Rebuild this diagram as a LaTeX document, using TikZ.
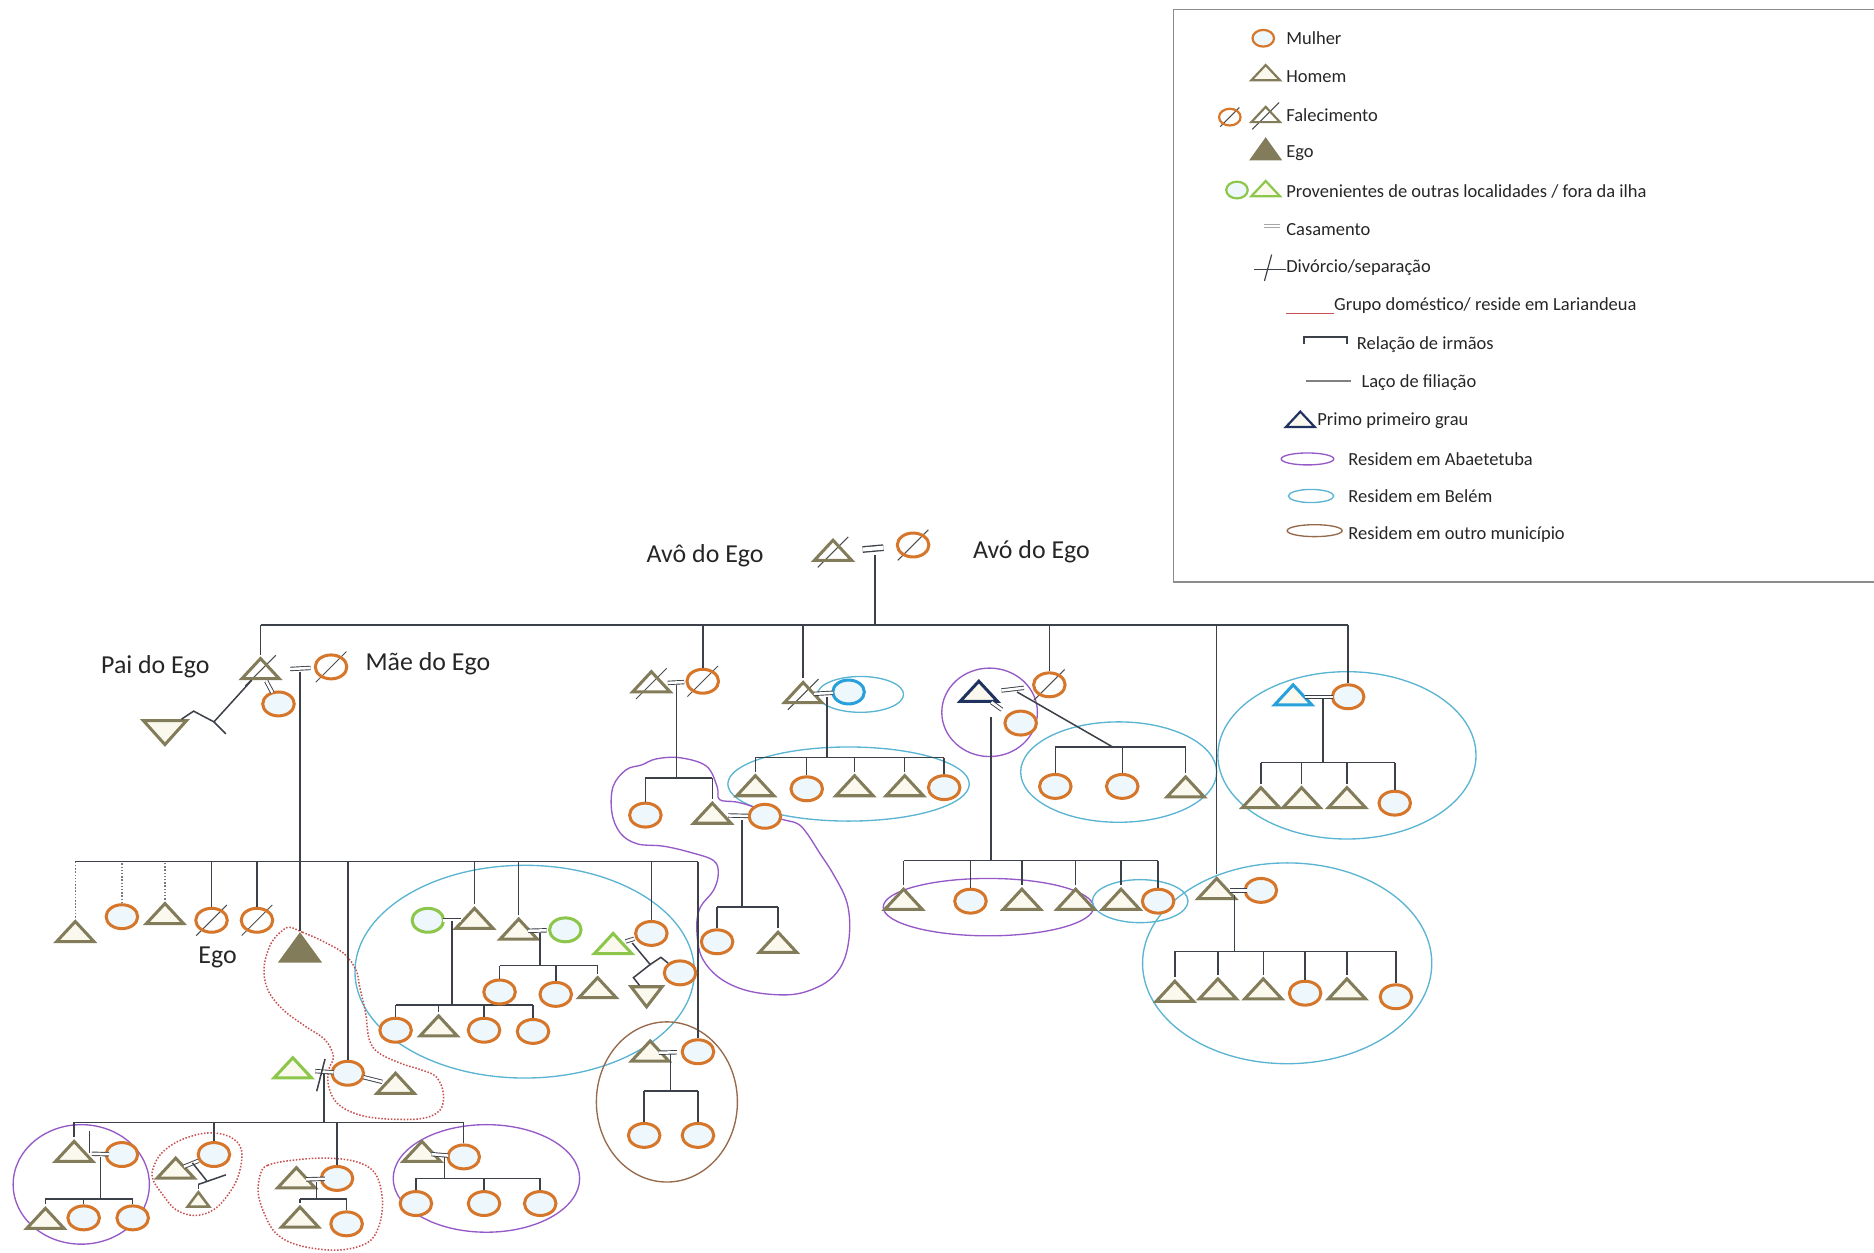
\documentclass[tikz,border=0pt]{standalone}
\usepackage{fontspec}
\setmainfont{Carlito}
\usetikzlibrary{shapes.geometric, calc}

\definecolor{laranja}{RGB}{214,118,42}
\definecolor{oliva}{RGB}{130,124,90}
\definecolor{verde}{RGB}{140,198,74}
\definecolor{marinho}{RGB}{31,50,96}
\definecolor{azulclaro}{RGB}{40,160,220}
\definecolor{ciano}{RGB}{90,180,210}
\definecolor{roxo}{RGB}{150,90,200}
\definecolor{marrom}{RGB}{150,105,75}
\definecolor{vermelho}{RGB}{200,80,80}
\definecolor{traco}{RGB}{60,64,72}
\definecolor{fundoM}{RGB}{238,247,251}
\definecolor{fundoH}{RGB}{251,249,238}

\begin{document}
\begin{tikzpicture}[x=0.025cm, y=-0.025cm,
    mulher/.style={ellipse, draw=laranja, line width=1.8pt, fill=fundoM, minimum width=0.66cm, minimum height=0.5cm, inner sep=0pt},
    homem/.style={isosceles triangle, isosceles triangle stretches=true, shape border rotate=90, draw=oliva, line width=1.8pt, fill=fundoH, minimum width=0.78cm, minimum height=0.42cm, inner sep=0pt},
    egotri/.style={homem, fill=oliva, minimum width=0.8cm, minimum height=0.55cm},
    mulherL/.style={mulher, line width=1.3pt, minimum width=0.45cm, minimum height=0.35cm},
    homemL/.style={homem, line width=1.3pt, minimum width=0.6cm, minimum height=0.32cm},
    morto/.style={fill=none, append after command={\pgfextra{\draw[black!70, line width=0.6pt] ([shift={(-#1,-#1)}]\tikzlastnode.center) -- ([shift={(#1,#1)}]\tikzlastnode.center);}}},
    morto/.default=0.32cm,
    linha/.style={draw=traco, line width=0.9pt},
    pontilhado/.style={draw=traco!70, line width=0.9pt, densely dotted},
    casar/.style={draw=traco, line width=0.55pt, double=white, double distance=1.5pt},
    residencia/.style={line width=0.8pt},
    grupo/.style={draw=vermelho, line width=0.9pt, densely dotted},
    rotulo/.style={font=\fontsize{15.4}{18}\selectfont, text=black!85, inner sep=0pt},
    legtxt/.style={font=\fontsize{11}{13}\selectfont, text=black!85, anchor=west, inner sep=0pt}
]
\useasboundingbox (0,0) rectangle (1568,1048);

% Residencias (elipses)
\draw[residencia, roxo] (828,596) ellipse [x radius=40, y radius=37];
\draw[residencia, roxo] (827,759) ellipse [x radius=88, y radius=24];
\draw[residencia, roxo] (68,991) ellipse [x radius=57, y radius=50];
\draw[residencia, roxo] (407,986) ellipse [x radius=78, y radius=45];
\draw[residencia, ciano] (720,581) ellipse [x radius=36, y radius=15];
\draw[residencia, ciano] (710,656) ellipse [x radius=101, y radius=31];
\draw[residencia, ciano] (936,646) ellipse [x radius=82, y radius=42];
\draw[residencia, ciano] (1127,632) ellipse [x radius=108, y radius=70];
\draw[residencia, ciano] (1077,806) ellipse [x radius=121, y radius=84];
\draw[residencia, ciano] (954,754) ellipse [x radius=40, y radius=18];
\draw[residencia, ciano] (439,813) ellipse [x radius=142, y radius=89];
\draw[residencia, marrom] (558,922) ellipse [x radius=59, y radius=67];
\draw[residencia, roxo] plot[smooth cycle, tension=0.6] coordinates {(537,640) (549,635) (569,634) (591,641) (600,658) (602,669) (616,671) (630,675) (653,685) (667,689) (675,697) (686,714) (697,731) (708,753) (711,775) (708,798) (700,814) (686,825) (664,832) (636,831) (614,825) (597,814) (586,798) (583,775) (586,759) (597,745) (601,731) (597,720) (577,713) (555,708) (533,706) (519,697) (512,680) (513,658) (524,644)};

% Grupos domesticos (pontilhado vermelho)
\draw[grupo] plot[smooth cycle, tension=0.6] coordinates {(243,776) (253,780) (269,787) (288,798) (298,812) (301,826) (306,848) (309,870) (317,881) (336,890) (352,895) (365,901) (371,915) (368,929) (352,936) (320,936) (298,932) (282,923) (275,909) (275,895) (279,884) (272,870) (256,859) (237,845) (224,828) (221,809) (227,789) (237,778)};
\draw[grupo] plot[smooth cycle, tension=0.6] coordinates {(128,978) (135,965) (151,954) (173,948) (192,951) (202,962) (200,982) (192,998) (179,1012) (163,1017) (147,1012) (135,998) (128,987)};
\draw[grupo] plot[smooth cycle, tension=0.6] coordinates {(218,982) (224,975) (243,971) (272,969) (298,972) (314,982) (320,1004) (317,1026) (307,1040) (282,1046) (250,1042) (231,1032) (221,1015) (216,998)};

% Avos
\node[homem, morto] (avo) at (697,462) {};
\node[mulher, morto] (ava) at (764,456) {};
\node[rotulo] (avoTxt) at (590,465) {Avô do Ego};
\node[rotulo] (avaTxt) at (863,462) {Avó do Ego};
\draw[casar, line width=0.8pt, double distance=2.4pt] ($(avo)!0.37!(ava)$) -- ($(avo)!0.63!(ava)$);
\coordinate (jAvos) at (732,464);
\coordinate (barPais) at (0,523);
\draw[linha] (jAvos) -- (jAvos |- barPais);

% Pais do Ego
\node[homem, morto] (pai) at (218,561) {};
\node[mulher, morto] (mae) at (277,558) {};
\node[rotulo] (paiTxt) at (130,558) {Pai do Ego};
\node[rotulo] (maeTxt) at (358,555) {Mãe do Ego};
\draw[casar] ($(pai)!0.42!(mae)$) -- ($(pai)!0.71!(mae)$);
\node[mulher] (pai2) at (233,589) {};
\draw[casar] ($(pai)!0.32!(pai2)$) -- ($(pai)!0.66!(pai2)$);
\node[homem, shape border rotate=-72, minimum width=0.9cm, minimum height=0.5cm] (meio) at (138,611) {};
\coordinate (z1) at (179,604);
\coordinate (z2) at (162,595);
\coordinate (z3) at (189,614);
\draw[linha] (pai) -- (z1) -- (z2) -- (meio);
\draw[linha] (z1) -- (z3);
\coordinate (jPais) at (251,562);
\coordinate (barEgo) at (0,721);

% Tio 1 (Abaetetuba)
\node[homem, morto] (tio1) at (545,572) {};
\node[mulher, morto] (tia1) at (588,570) {};
\draw[casar] ($(tio1)!0.32!(tia1)$) -- ($(tio1)!0.64!(tia1)$);
\coordinate (j1) at (566,573);
\coordinate (bar1) at (0,651);
\node[mulher] (p1a) at (540,682) {};
\node[homem] (p1b) at (596,682) {};
\node[mulher] (p1c) at (640,683) {};
\draw[casar] ($(p1b)!0.3!(p1c)$) -- ($(p1b)!0.68!(p1c)$);
\coordinate (j1b) at (621,686);
\coordinate (bar1b) at (0,759);
\node[mulher] (p1d) at (600,788) {};
\node[homem] (p1e) at (651,790) {};
\draw[linha] (j1) -- (j1 |- bar1);
\draw[linha] (p1a |- bar1) -- (p1b |- bar1);
\foreach \c in {p1a,p1b} \draw[linha] (\c) -- (\c |- bar1);
\draw[linha] (j1b) -- (j1b |- bar1b);
\draw[linha] (p1d |- bar1b) -- (p1e |- bar1b);
\foreach \c in {p1d,p1e} \draw[linha] (\c) -- (\c |- bar1b);

% Tio 2 (Belem)
\node[homem, morto] (tio2) at (672,581) {};
\node[mulher, draw=azulclaro] (tia2) at (710,579) {};
\draw[casar] ($(tio2)!0.24!(tia2)$) -- ($(tio2)!0.66!(tia2)$);
\coordinate (j2) at (692,583);
\coordinate (bar2) at (0,634);
\node[homem] (p2a) at (632,659) {};
\node[mulher] (p2b) at (675,660) {};
\node[homem] (p2c) at (715,659) {};
\node[homem] (p2d) at (757,659) {};
\node[mulher] (p2e) at (790,659) {};
\draw[linha] (j2) -- (j2 |- bar2);
\draw[linha] (p2a |- bar2) -- (p2e |- bar2);
\foreach \c in {p2a,p2b,p2c,p2d,p2e} \draw[linha] (\c) -- (\c |- bar2);

% Primo primeiro grau
\node[homem, draw=marinho] (primo) at (819,580) {};
\node[mulher, morto] (tia3) at (878,573) {};
\draw[casar] ($(primo)!0.32!(tia3)$) -- ($(primo)!0.64!(tia3)$);
\node[mulher] (primoEsp) at (854,605) {};
\draw[casar] ($(primo)!0.3!(primoEsp)$) -- ($(primo)!0.55!(primoEsp)$);
\coordinate (j3a) at (851,579);
\coordinate (j3c) at (931,625);
\coordinate (bar3a) at (0,625);
\node[mulher] (p3a) at (883,658) {};
\node[mulher] (p3b) at (939,658) {};
\node[homem] (p3c) at (992,660) {};
\draw[linha] (j3a) -- (j3c);
\draw[linha] (p3a |- bar3a) -- (p3c |- bar3a);
\foreach \c in {p3a,p3b,p3c} \draw[linha] (\c) -- (\c |- bar3a);
\coordinate (j3b) at (829,600);
\coordinate (bar3b) at (0,720);
\node[homem] (p3d) at (756,754) {};
\node[mulher] (p3e) at (812,754) {};
\node[homem] (p3f) at (855,754) {};
\node[homem] (p3g) at (900,754) {};
\node[homem] (p3h) at (938,754) {};
\node[mulher] (p3i) at (969,754) {};
\draw[linha] (j3b) -- (j3b |- bar3b);
\draw[linha] (p3d |- bar3b) -- (p3i |- bar3b);
\foreach \c in {p3d,p3e,p3f,p3g,p3h,p3i} \draw[linha] (\c) -- (\c |- bar3b);

% Tio 4 (Belem)
\node[homem] (tio4) at (1018,745) {};
\node[mulher] (tia4) at (1055,745) {};
\draw[casar] ($(tio4)!0.3!(tia4)$) -- ($(tio4)!0.68!(tia4)$);
\coordinate (j4) at (1033,749);
\coordinate (bar4) at (0,796);
\node[homem] (p4a) at (983,831) {};
\node[homem] (p4b) at (1019,829) {};
\node[homem] (p4c) at (1057,829) {};
\node[mulher] (p4d) at (1092,831) {};
\node[homem] (p4e) at (1127,829) {};
\node[mulher] (p4f) at (1168,834) {};
\draw[linha] (j4) -- (j4 |- bar4);
\draw[linha] (p4a |- bar4) -- (p4f |- bar4);
\foreach \c in {p4a,p4b,p4c,p4d,p4e,p4f} \draw[linha] (\c) -- (\c |- bar4);

% Tia 5 (Belem)
\node[homem, draw=azulclaro] (primoB) at (1082,583) {};
\node[mulher] (tia5) at (1128,583) {};
\draw[casar] ($(primoB)!0.21!(tia5)$) -- ($(primoB)!0.72!(tia5)$);
\coordinate (j5) at (1107,584);
\coordinate (bar5) at (0,638);
\node[homem] (p5a) at (1055,669) {};
\node[homem] (p5b) at (1089,669) {};
\node[homem] (p5c) at (1127,669) {};
\node[mulher] (p5d) at (1167,672) {};
\draw[linha] (j5) -- (j5 |- bar5);
\draw[linha] (p5a |- bar5) -- (p5d |- bar5);
\foreach \c in {p5a,p5b,p5c,p5d} \draw[linha] (\c) -- (\c |- bar5);

% Irmaos dos pais
\draw[linha] (pai |- barPais) -- (tia5 |- barPais);
\foreach \c in {pai,tia1,tio2,tia3,tio4,tia5} \draw[linha] (\c) -- (\c |- barPais);

% Irmaos do Ego
\node[homem] (irm1) at (63,781) {};
\node[mulher] (irm2) at (102,767) {};
\node[homem] (irm3) at (138,766) {};
\node[mulher, morto] (irm4) at (177,770) {};
\node[mulher, morto] (irm5) at (215,770) {};
\node[egotri] (ego) at (251,796) {};
\node[rotulo] (egoTxt) at (182,801) {Ego};
\node[mulher] (irm6) at (291,898) {};
\node[homem] (irm7) at (397,770) {};
\node[homem] (irm8) at (434,779) {};
\node[mulher] (irm9) at (545,781) {};
\node[mulher] (irm10) at (584,880) {};
\draw[linha] (jPais) -- (jPais |- barEgo);
\draw[linha] (irm1 |- barEgo) -- (irm10 |- barEgo);
\foreach \c in {irm1,irm2,irm3} \draw[pontilhado] (\c) -- (\c |- barEgo);
\foreach \c in {irm4,irm5,ego,irm6,irm7,irm8,irm9,irm10} \draw[linha] (\c) -- (\c |- barEgo);

% Familia do irmao 7
\node[mulher, draw=verde] (esp7) at (358,770) {};
\draw[casar] ($(esp7)!0.33!(irm7)$) -- ($(esp7)!0.72!(irm7)$);
\coordinate (j7) at (378,771);
\coordinate (bar7) at (0,841);
\node[mulher] (c7a) at (331,862) {};
\node[homem] (c7b) at (367,860) {};
\node[mulher] (c7c) at (405,862) {};
\node[mulher] (c7d) at (446,863) {};
\draw[linha] (j7) -- (j7 |- bar7);
\draw[linha] (c7a |- bar7) -- (c7d |- bar7);
\foreach \c in {c7a,c7b,c7c,c7d} \draw[linha] (\c) -- (\c |- bar7);

% Familia do irmao 8
\node[mulher, draw=verde] (esp8) at (473,778) {};
\draw[casar] ($(irm8)!0.2!(esp8)$) -- ($(irm8)!0.6!(esp8)$);
\coordinate (j8) at (452,781);
\coordinate (bar8) at (0,808);
\node[mulher] (c8a) at (418,830) {};
\node[mulher] (c8b) at (465,832) {};
\node[homem] (c8c) at (500,828) {};
\draw[linha] (j8) -- (j8 |- bar8);
\draw[linha] (c8a |- bar8) -- (c8c |- bar8);
\foreach \c in {c8a,c8b,c8c} \draw[linha] (\c) -- (\c |- bar8);

% Familia da irma 9
\node[homem, draw=verde] (esp9) at (513,791) {};
\draw[casar] ($(esp9)!0.33!(irm9)$) -- ($(esp9)!0.55!(irm9)$);
\coordinate (j9) at (529,789);
\coordinate (k9) at (544,807);
\coordinate (b9a) at (553,801);
\coordinate (b9c) at (530,818);
\node[mulher] (c9a) at (569,814) {};
\node[homem, shape border rotate=-95, minimum width=0.65cm] (c9b) at (541,832) {};
\draw[linha] (j9) -- (k9) -- (b9a) -- (c9a);
\draw[linha] (k9) -- (b9c) -- (c9b);

% Familia da irma 10 (outro municipio)
\node[homem] (esp10) at (544,881) {};
\draw[casar] ($(esp10)!0.18!(irm10)$) -- ($(esp10)!0.56!(irm10)$);
\coordinate (j10) at (561,882);
\coordinate (bar10) at (0,913);
\node[mulher] (c10a) at (539,950) {};
\node[mulher] (c10b) at (584,950) {};
\draw[linha] (j10) -- (j10 |- bar10);
\draw[linha] (c10a |- bar10) -- (c10b |- bar10);
\foreach \c in {c10a,c10b} \draw[linha] (\c) -- (\c |- bar10);

% Familia da irma 6
\node[homem, draw=verde] (ex6) at (245,895) {};
\draw[casar] ($(ex6)!0.41!(irm6)$) -- ($(ex6)!0.74!(irm6)$);
\coordinate (d6a) at (265,913);
\coordinate (d6b) at (272,886);
\draw[linha] (d6a) -- (d6b);
\node[homem] (esp6) at (331,908) {};
\draw[casar] ($(irm6)!0.33!(esp6)$) -- ($(irm6)!0.72!(esp6)$);
\coordinate (j6) at (271,899);
\coordinate (bar6) at (0,939);
\node[homem] (s1) at (62,965) {};
\node[mulher] (s2) at (179,966) {};
\node[mulher] (s3) at (282,986) {};
\node[mulher] (s4) at (388,968) {};
\draw[linha] (j6) -- (j6 |- bar6);
\draw[linha] (s1 |- bar6) -- (s4 |- bar6);
\foreach \c in {s1,s2,s3,s4} \draw[linha] (\c) -- (\c |- bar6);

% Sobrinho 1 (Abaetetuba)
\node[mulher] (s1e) at (102,966) {};
\draw[casar] ($(s1)!0.37!(s1e)$) -- ($(s1)!0.73!(s1e)$);
\coordinate (t11) at (75,946);
\draw[linha] (t11) -- (t11 |- s1);
\coordinate (j11) at (84,968);
\coordinate (bar11) at (0,1003);
\node[homem] (g1) at (38,1021) {};
\node[mulher] (g2) at (70,1019) {};
\node[mulher] (g3) at (111,1019) {};
\draw[linha] (j11) -- (j11 |- bar11);
\draw[linha] (g1 |- bar11) -- (g3 |- bar11);
\foreach \c in {g1,g2,g3} \draw[linha] (\c) -- (\c |- bar11);

% Sobrinha 2
\node[homem] (s2e) at (147,979) {};
\draw[casar] ($(s2e)!0.22!(s2)$) -- ($(s2e)!0.6!(s2)$);
\coordinate (j12) at (161,973);
\coordinate (k12) at (173,988);
\coordinate (k12a) at (166,991);
\coordinate (k12b) at (189,983);
\node[homem, line width=1.5pt, minimum width=0.45cm, minimum height=0.3cm] (g4) at (166,1005) {};
\draw[linha] (j12) -- (k12);
\draw[linha] (k12a) -- (k12b);
\draw[linha] (k12a) -- (g4);

% Sobrinha 3
\node[homem] (s3e) at (248,987) {};
\draw[casar] ($(s3e)!0.24!(s3)$) -- ($(s3e)!0.7!(s3)$);
\coordinate (j13) at (265,989);
\coordinate (bar13) at (0,1003);
\node[homem] (g5) at (251,1020) {};
\node[mulher] (g6) at (290,1024) {};
\draw[linha] (j13) -- (j13 |- bar13);
\draw[linha] (g5 |- bar13) -- (g6 |- bar13);
\foreach \c in {g5,g6} \draw[linha] (\c) -- (\c |- bar13);

% Sobrinha 4 (Abaetetuba)
\node[homem] (s4e) at (353,965) {};
\draw[casar] ($(s4e)!0.23!(s4)$) -- ($(s4e)!0.63!(s4)$);
\coordinate (j14) at (372,968);
\coordinate (bar14) at (0,986);
\node[mulher] (g7) at (348,1007) {};
\node[mulher] (g8) at (405,1007) {};
\node[mulher] (g9) at (452,1007) {};
\draw[linha] (j14) -- (j14 |- bar14);
\draw[linha] (g7 |- bar14) -- (g9 |- bar14);
\foreach \c in {g7,g8,g9} \draw[linha] (\c) -- (\c |- bar14);

% Legenda
\draw[draw=black!45, line width=0.9pt] (1568,8) -- (982,8) -- (982,487) -- (1568,487);
\node[mulherL] (lgM) at (1057,32) {};
\node[legtxt] (lgMt) at (1076,32) {Mulher};
\node[homemL] (lgH) at (1059,62) {};
\node[legtxt] (lgHt) at (1076,64) {Homem};
\node[mulherL, morto=0.2cm] (lgF1) at (1029,98) {};
\node[homemL, morto=0.28cm] (lgF2) at (1059,97) {};
\node[legtxt] (lgFt) at (1076,96) {Falecimento};
\node[homemL, fill=oliva, minimum height=0.42cm] (lgE) at (1059,127) {};
\node[legtxt] (lgEt) at (1076,128) {Ego};
\node[mulherL, draw=verde] (lgV1) at (1035,159) {};
\node[homemL, draw=verde] (lgV2) at (1059,159) {};
\node[legtxt] (lgVt) at (1076,160) {Provenientes de outras localidades / fora da ilha};
\coordinate (lgC1) at (1058,189);
\coordinate (lgC2) at (1071,189);
\draw[casar, draw=gray!70] (lgC1) -- (lgC2);
\node[legtxt] (lgCt) at (1076,192) {Casamento};
\coordinate (lgD1) at (1049,224);
\coordinate (lgD2) at (1076,224);
\draw[casar] (lgD1) -- (lgD2);
\draw[linha, line width=0.7pt] (1058,235) -- (1064,213);
\node[legtxt] (lgDt) at (1076,224) {Divórcio/separação};
\coordinate (lgG1) at (1076,262);
\coordinate (lgG2) at (1116,262);
\draw[vermelho, line width=0.7pt] (lgG1) -- (lgG2);
\node[legtxt] (lgGt) at (1116,256) {Grupo doméstico/ reside em Lariandeua};
\draw[linha, line width=0.7pt] (1091,288) -- (1091,282) -- (1127,282) -- (1127,288);
\node[legtxt] (lgIt) at (1135,288) {Relação de irmãos};
\draw[gray, line width=1.2pt] (1093,319) -- (1130,319);
\node[legtxt] (lgLt) at (1139,320) {Laço de filiação};
\node[homemL, draw=marinho] (lgP) at (1088,352) {};
\node[legtxt] (lgPt) at (1102,352) {Primo primeiro grau};
\draw[residencia, roxo] (1094,384) ellipse [x radius=22, y radius=5];
\node[legtxt] (lgAt) at (1128,384) {Residem em Abaetetuba};
\draw[residencia, ciano] (1097,415) ellipse [x radius=19, y radius=5.5];
\node[legtxt] (lgBt) at (1128,415) {Residem em Belém};
\draw[residencia, marrom] (1100,444) ellipse [x radius=23, y radius=5];
\node[legtxt] (lgOt) at (1128,447) {Residem em outro município};

\end{tikzpicture}
\end{document}
